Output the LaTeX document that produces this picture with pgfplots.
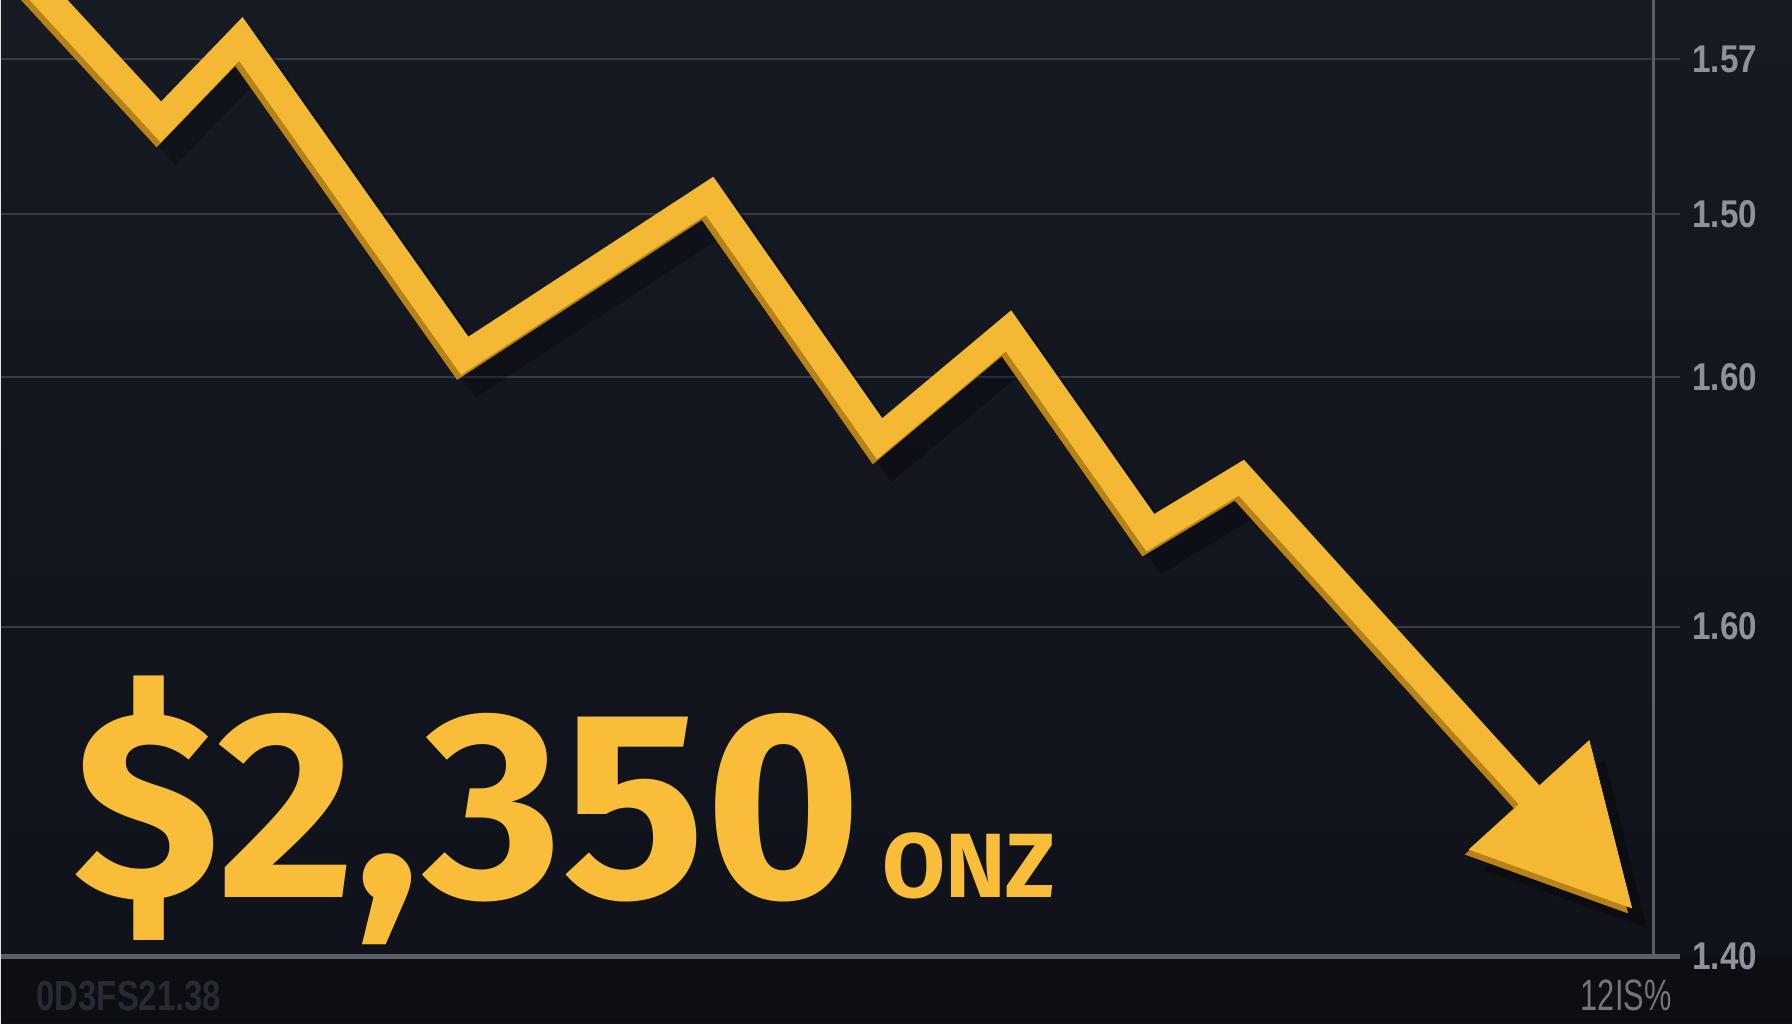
\documentclass[border=0pt]{standalone}
\usepackage{pgfplots}
\pgfplotsset{compat=1.18}
\usepackage{pgfplotstable}
\usepackage{fontspec}
\usepackage{graphicx}
\usetikzlibrary{arrows.meta}
\setmainfont{Liberation Sans}
\newfontfamily\bigfont{Fira Sans}

\definecolor{bgtop}{HTML}{161A23}
\definecolor{bgbot}{HTML}{0F1219}
\definecolor{bgband}{HTML}{0C0E13}
\definecolor{gridgray}{HTML}{363B44}
\definecolor{axisgray}{HTML}{5A5F68}
\definecolor{labelgray}{HTML}{8E939B}
\definecolor{faintgray}{HTML}{262A33}
\definecolor{gold}{HTML}{F4B933}
\definecolor{golddark}{HTML}{B8821A}
\definecolor{goldtext}{HTML}{F8BE3A}

% ribbon vertices, pixel units (y measured from the bottom)
\pgfplotstableread{
x y
20 1054
160 902
240 985
464 668
709 828
879 585
1008 693
1150 491
1241 546
1633 114
}\goldline

\newcommand{\lbl}[1]{\scalebox{0.86}[1]{\bfseries #1}}

\begin{document}
\begin{tikzpicture}
\shade[top color=bgtop, bottom color=bgbot] (0,0) rectangle (17.92cm,10.24cm);
\fill[bgband] (0,0) rectangle (17.92cm,0.67cm);
\begin{axis}[
    at={(0,0)}, anchor=south west,
    scale only axis,
    width=16.8cm, height=10.24cm,
    xmin=0, xmax=1680, ymin=0, ymax=1024,
    axis line style={draw=none},
    xtick=\empty,
    ytick={67,397,647,810,965},
    yticklabels={\lbl{1.40},\lbl{1.60},\lbl{1.60},\lbl{1.50},\lbl{1.57}},
    yticklabel pos=right,
    major tick length=0pt,
    ymajorgrids,
    grid style={color=gridgray, line width=0.2mm},
    yticklabel style={font=\fontsize{11}{12}\selectfont, color=labelgray},
]
\draw[axisgray, line width=0.5mm] (axis cs:0,67) -- (axis cs:1680,67);
\draw[axisgray, line width=0.3mm] (axis cs:1653,67) -- (axis cs:1653,1024);

% drop shadow, side face, ribbon
\addplot[no marks, black, opacity=0.28, line width=3.2mm, line join=miter,
    xshift=1.5mm, yshift=-2mm,
    -{Triangle[length=15.5mm, width=15.5mm]}] table {\goldline};
\addplot[no marks, golddark, line width=2.8mm, line join=miter,
    xshift=-0.4mm, yshift=-0.5mm,
    -{Triangle[length=15.5mm, width=15.5mm]}] table {\goldline};
\addplot[no marks, gold, line width=2.8mm, line join=miter,
    -{Triangle[length=15.5mm, width=15.5mm]}] table {\goldline};

\node[anchor=base west, inner sep=0, goldtext]
    at (axis cs:72,126) {\bigfont\bfseries\fontsize{76}{76}\selectfont \$2,350};
\node[anchor=base west, inner sep=0, goldtext]
    at (axis cs:881,126) {\bigfont\bfseries\fontsize{26}{26}\selectfont ONZ};
\node[anchor=base, inner sep=0, faintgray]
    at (axis cs:128,13) {\scalebox{0.78}[1]{\bfseries\fontsize{12}{12}\selectfont 0D3FS21.38}};
\node[anchor=base, inner sep=0, labelgray!80!black]
    at (axis cs:1626,13) {\scalebox{0.7}[1]{\fontsize{12.5}{12.5}\selectfont 12IS\%}};
\end{axis}
\end{tikzpicture}
\end{document}
